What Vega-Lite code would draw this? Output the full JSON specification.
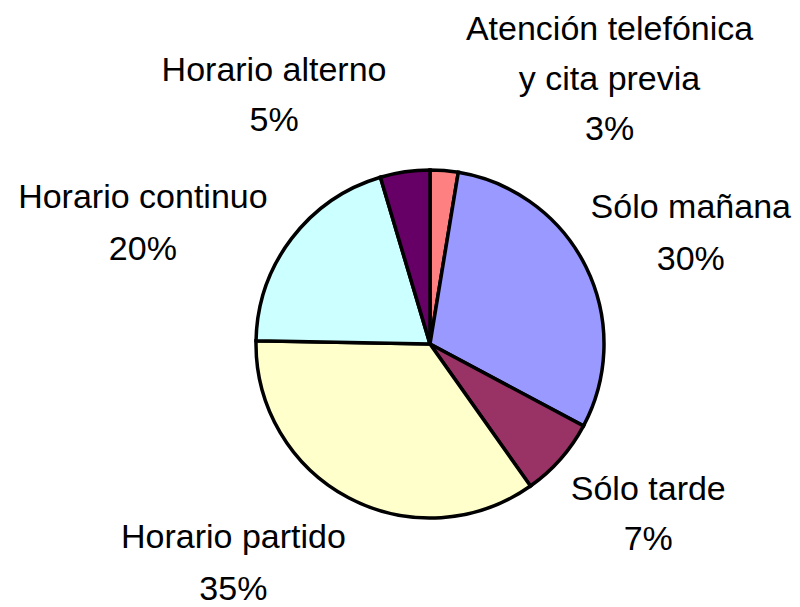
{
  "$schema": "https://vega.github.io/schema/vega-lite/v6.json",
  "width": 740,
  "height": 526,
  "autosize": {"type": "none"},
  "padding": {"left": 60, "top": 81, "right": 0, "bottom": 0},
  "background": "white",
  "config": {"view": {"stroke": null}},
  "data": {
    "values": [
      {"ord": 1, "cat": "Atención telefónica y cita previa", "value": 2.6, "label": "Atención telefónica\ny cita previa\n3%"},
      {"ord": 2, "cat": "Sólo mañana", "value": 30.2, "label": "Sólo mañana\n30%"},
      {"ord": 3, "cat": "Sólo tarde", "value": 7.4, "label": "Sólo tarde\n7%"},
      {"ord": 4, "cat": "Horario partido", "value": 35.1, "label": "Horario partido\n35%"},
      {"ord": 5, "cat": "Horario continuo", "value": 20.1, "label": "Horario continuo\n20%"},
      {"ord": 6, "cat": "Horario alterno", "value": 4.6, "label": "Horario alterno\n5%"}
    ]
  },
  "encoding": {
    "theta": {"field": "value", "type": "quantitative", "stack": true},
    "order": {"field": "ord", "type": "quantitative"}
  },
  "layer": [
    {
      "mark": {"type": "arc", "outerRadius": 174, "stroke": "black", "strokeWidth": 3.5},
      "encoding": {
        "color": {
          "field": "cat",
          "type": "nominal",
          "scale": {
            "domain": ["Atención telefónica y cita previa", "Sólo mañana", "Sólo tarde", "Horario partido", "Horario continuo", "Horario alterno"],
            "range": ["#FF8080", "#9999FF", "#993366", "#FFFFCC", "#CCFFFF", "#660066"]
          },
          "legend": null
        }
      }
    },
    {
      "mark": {"type": "text", "radius": 215, "font": "Liberation Sans", "fontSize": 34, "lineHeight": 50, "lineBreak": "\n", "align": "center", "baseline": "alphabetic", "color": "black", "dx": 162, "dy": -90},
      "encoding": {
        "detail": {"field": "cat", "type": "nominal"},
        "text": {"condition": {"test": "datum.ord === 1", "field": "label"}, "value": ""}
      }
    },
    {
      "mark": {"type": "text", "radius": 215, "font": "Liberation Sans", "fontSize": 34, "lineHeight": 52, "lineBreak": "\n", "align": "center", "baseline": "alphabetic", "color": "black", "dx": 68, "dy": -31},
      "encoding": {
        "detail": {"field": "cat", "type": "nominal"},
        "text": {"condition": {"test": "datum.ord === 2", "field": "label"}, "value": ""}
      }
    },
    {
      "mark": {"type": "text", "radius": 215, "font": "Liberation Sans", "fontSize": 34, "lineHeight": 50, "lineBreak": "\n", "align": "center", "baseline": "alphabetic", "color": "black", "dx": 57, "dy": 14},
      "encoding": {
        "detail": {"field": "cat", "type": "nominal"},
        "text": {"condition": {"test": "datum.ord === 3", "field": "label"}, "value": ""}
      }
    },
    {
      "mark": {"type": "text", "radius": 215, "font": "Liberation Sans", "fontSize": 34, "lineHeight": 52, "lineBreak": "\n", "align": "center", "baseline": "alphabetic", "color": "black", "dx": -96, "dy": 14},
      "encoding": {
        "detail": {"field": "cat", "type": "nominal"},
        "text": {"condition": {"test": "datum.ord === 4", "field": "label"}, "value": ""}
      }
    },
    {
      "mark": {"type": "text", "radius": 215, "font": "Liberation Sans", "fontSize": 34, "lineHeight": 52, "lineBreak": "\n", "align": "center", "baseline": "alphabetic", "color": "black", "dx": -116, "dy": -6},
      "encoding": {
        "detail": {"field": "cat", "type": "nominal"},
        "text": {"condition": {"test": "datum.ord === 5", "field": "label"}, "value": ""}
      }
    },
    {
      "mark": {"type": "text", "radius": 215, "font": "Liberation Sans", "fontSize": 34, "lineHeight": 50, "lineBreak": "\n", "align": "center", "baseline": "alphabetic", "color": "black", "dx": -125, "dy": -50},
      "encoding": {
        "detail": {"field": "cat", "type": "nominal"},
        "text": {"condition": {"test": "datum.ord === 6", "field": "label"}, "value": ""}
      }
    }
  ]
}
